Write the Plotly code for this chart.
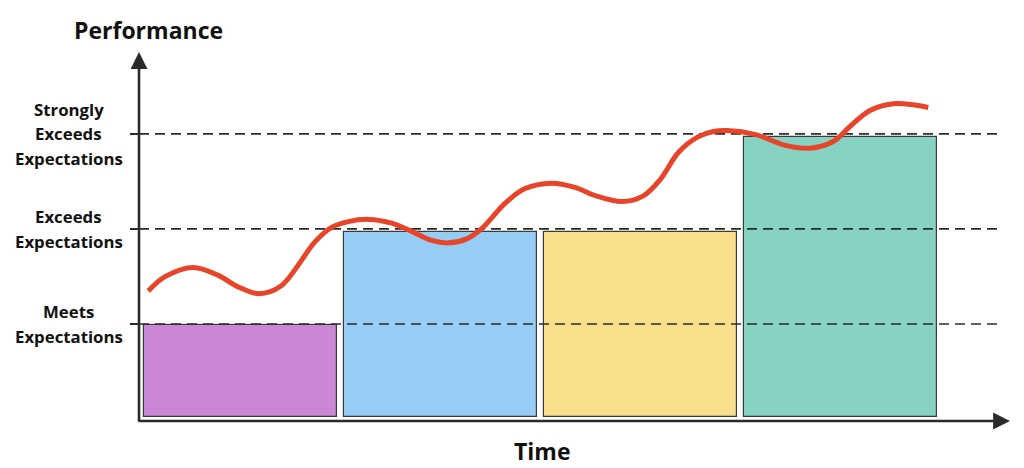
import plotly.graph_objects as go

# ---- data ----
periods = [0, 1, 2, 3]
bar_values = [0.97, 1.95, 1.95, 2.95]
bar_base = 0.02
bar_colors = ["#C987D5", "#97CCF4", "#FAE08C", "#86D3C4"]

level_values = [1, 2, 3]
level_labels = [["Meets", "Expectations"], ["Exceeds", "Expectations"],
                ["Strongly", "Exceeds", "Expectations"]]

curve_x = [-0.461, -0.3775, -0.236, -0.111, -0.011, 0.0925, 0.2025, 0.2875, 0.370,
           0.4575, 0.539, 0.6425, 0.756, 0.856, 0.956, 1.0425, 1.131, 1.2075,
           1.3175, 1.420, 1.5525, 1.6725, 1.7775, 1.9075, 2.014, 2.0975, 2.1925,
           2.2875, 2.364, 2.4325, 2.581, 2.714, 2.8475, 2.964, 3.0475, 3.1475,
           3.264, 3.364, 3.439]
curve_y = [1.347, 1.498, 1.595, 1.511, 1.389, 1.319, 1.400, 1.616, 1.858,
           2.018, 2.077, 2.100, 2.060, 1.974, 1.879, 1.853, 1.895, 2.005,
           2.258, 2.421, 2.481, 2.437, 2.347, 2.287, 2.347, 2.516, 2.811,
           2.968, 3.024, 3.035, 2.989, 2.884, 2.849, 2.919, 3.077, 3.245,
           3.316, 3.305, 3.277]

x_range = [-0.5075, 3.8475]
y_range = [-0.02, 3.86]
level_x = [x_range[0], 3.812]

dark = "#2b2b2b"
font_family = "Open Sans, Noto Sans, sans-serif"

fig = go.Figure()

fig.add_trace(go.Bar(
    x=periods, y=bar_values, base=bar_base, width=0.965,
    marker=dict(color=bar_colors, line=dict(color="#3a3a3a", width=1.2)),
    hoverinfo="skip", showlegend=False,
))

for lv in level_values:
    fig.add_trace(go.Scatter(
        x=level_x, y=[lv, lv], mode="lines",
        line=dict(color=dark, width=1.7, dash="10px,6px"),
        hoverinfo="skip", showlegend=False,
    ))

fig.add_trace(go.Scatter(
    x=curve_x, y=curve_y, mode="lines",
    line=dict(color="#E8442A", width=5, shape="spline", smoothing=1.0,
              simplify=False),
    hoverinfo="skip", showlegend=False,
))

fig.update_xaxes(range=x_range, showgrid=False, zeroline=False,
                 showticklabels=False, showline=False, fixedrange=True)
fig.update_yaxes(range=y_range, showgrid=False, zeroline=False,
                 showticklabels=False, showline=False,
                 tickvals=level_values, ticks="outside", ticklen=8,
                 tickwidth=1.7, tickcolor=dark, fixedrange=True)

annotations = []
line_gap = 24.5
for lv, lines in zip(level_values, level_labels):
    n = len(lines)
    for i, word in enumerate(lines):
        annotations.append(dict(
            text=word, xref="paper", yref="y", x=-0.0804, y=lv,
            yshift=((n - 1) / 2 - i) * line_gap,
            xanchor="center", yanchor="middle", showarrow=False,
            font=dict(family=font_family, size=16.8, color="#111111", weight="bold"),
        ))

# axis arrows
annotations.append(dict(
    xref="paper", yref="paper", x=0, y=1, ax=0, ay=371,
    axref="pixel", ayref="pixel", text="", showarrow=True,
    arrowhead=2, arrowsize=1.3, arrowwidth=2.6, arrowcolor=dark,
))
annotations.append(dict(
    xref="paper", yref="paper", x=1, y=0, ax=-873, ay=0,
    axref="pixel", ayref="pixel", text="", showarrow=True,
    arrowhead=2, arrowsize=1.3, arrowwidth=2.6, arrowcolor=dark,
))

annotations.append(dict(
    text="Performance", xref="paper", yref="paper",
    x=(148.5 - 139) / 871, y=1 + (52 - 30) / 369,
    xanchor="center", yanchor="middle", showarrow=False,
    font=dict(family=font_family, size=23, color="#111111", weight="bold"),
))
annotations.append(dict(
    text="Time", xref="paper", yref="paper",
    x=(542.5 - 139) / 871, y=-(451 - 421) / 369,
    xanchor="center", yanchor="middle", showarrow=False,
    font=dict(family=font_family, size=23, color="#111111", weight="bold"),
))

# page body has an 8px default margin, so the figure is 8px smaller each way
fig.update_layout(
    width=1016, height=460,
    margin=dict(l=131, r=14, t=44, b=47),
    paper_bgcolor="white", plot_bgcolor="white",
    annotations=annotations,
    bargap=0,
)

fig.write_html("out.html")
